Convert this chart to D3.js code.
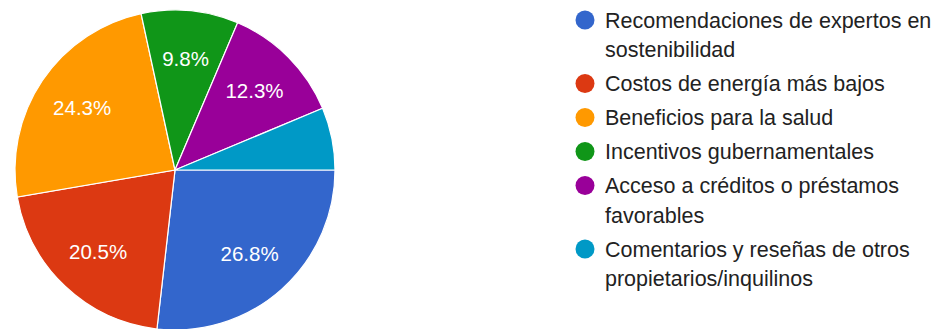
<!DOCTYPE html>
<html>
<head>
<meta charset="utf-8">
<script src="https://cdn.jsdelivr.net/npm/d3@7"></script>
<style>
  html, body { margin: 0; padding: 0; background: #fff; }
  svg { display: block; }
  text { font-family: Arial, "Liberation Sans", sans-serif; }
</style>
</head>
<body>
<svg id="chart" width="950" height="329"></svg>
<script>
// Survey answers and their share of responses (%)
const categories = [
  "Recomendaciones de expertos en sostenibilidad",
  "Costos de energía más bajos",
  "Beneficios para la salud",
  "Incentivos gubernamentales",
  "Acceso a créditos o préstamos favorables",
  "Comentarios y reseñas de otros propietarios/inquilinos"
];
const values = [26.8, 20.5, 24.3, 9.8, 12.3, 6.3];
// Legend text broken onto lines
const legendLines = [
  ["Recomendaciones de expertos en", "sostenibilidad"],
  ["Costos de energía más bajos"],
  ["Beneficios para la salud"],
  ["Incentivos gubernamentales"],
  ["Acceso a créditos o préstamos", "favorables"],
  ["Comentarios y reseñas de otros", "propietarios/inquilinos"]
];
const colors = ["#3366cc", "#dc3912", "#ff9900", "#109618", "#990099", "#0099c6"];

const svg = d3.select("#chart");
const cx = 175, cy = 170, r = 160;

const data = categories.map((c, i) => ({ name: c, value: values[i], color: colors[i] }));
const total = d3.sum(values);

// Slices run clockwise starting from 3 o'clock
const pie = d3.pie()
  .value(d => d.value)
  .sort(null)
  .startAngle(Math.PI / 2)
  .endAngle(Math.PI / 2 + 2 * Math.PI);

const arc = d3.arc().innerRadius(0).outerRadius(r);
const labelArc = d3.arc().innerRadius(r * 0.7).outerRadius(r * 0.7);

const g = svg.append("g").attr("transform", `translate(${cx},${cy})`);
const arcs = pie(data);

g.selectAll("path.slice")
  .data(arcs)
  .join("path")
  .attr("class", "slice")
  .attr("d", arc)
  .attr("fill", d => d.data.color)
  .attr("stroke", "#fff")
  .attr("stroke-width", 1.2);

// Percentage labels inside slices large enough to hold them
const fmt = d3.format(".1f");
g.selectAll("text.pct")
  .data(arcs.filter(d => d.data.value / total >= 0.08))
  .join("text")
  .attr("class", "pct")
  .attr("transform", d => `translate(${labelArc.centroid(d)})`)
  .attr("text-anchor", "middle")
  .attr("dy", "0.36em")
  .attr("fill", "#fff")
  .attr("font-size", 20.5)
  .text(d => fmt(d.data.value / total * 100) + "%");

// Legend
const legend = svg.append("g").attr("transform", "translate(585,0)");
const lineH = 29.5, itemGap = 34;
let y = 20;
legendLines.forEach((lines, i) => {
  const item = legend.append("g");
  item.append("circle")
    .attr("cx", 0).attr("cy", y)
    .attr("r", 9.5)
    .attr("fill", colors[i]);
  lines.forEach((ln, j) => {
    item.append("text")
      .attr("x", 20)
      .attr("y", y + j * lineH)
      .attr("dy", "0.36em")
      .attr("font-size", 21.5)
      .attr("fill", "#222")
      .text(ln);
  });
  y += (lines.length - 1) * lineH + itemGap;
});
</script>
</body>
</html>
